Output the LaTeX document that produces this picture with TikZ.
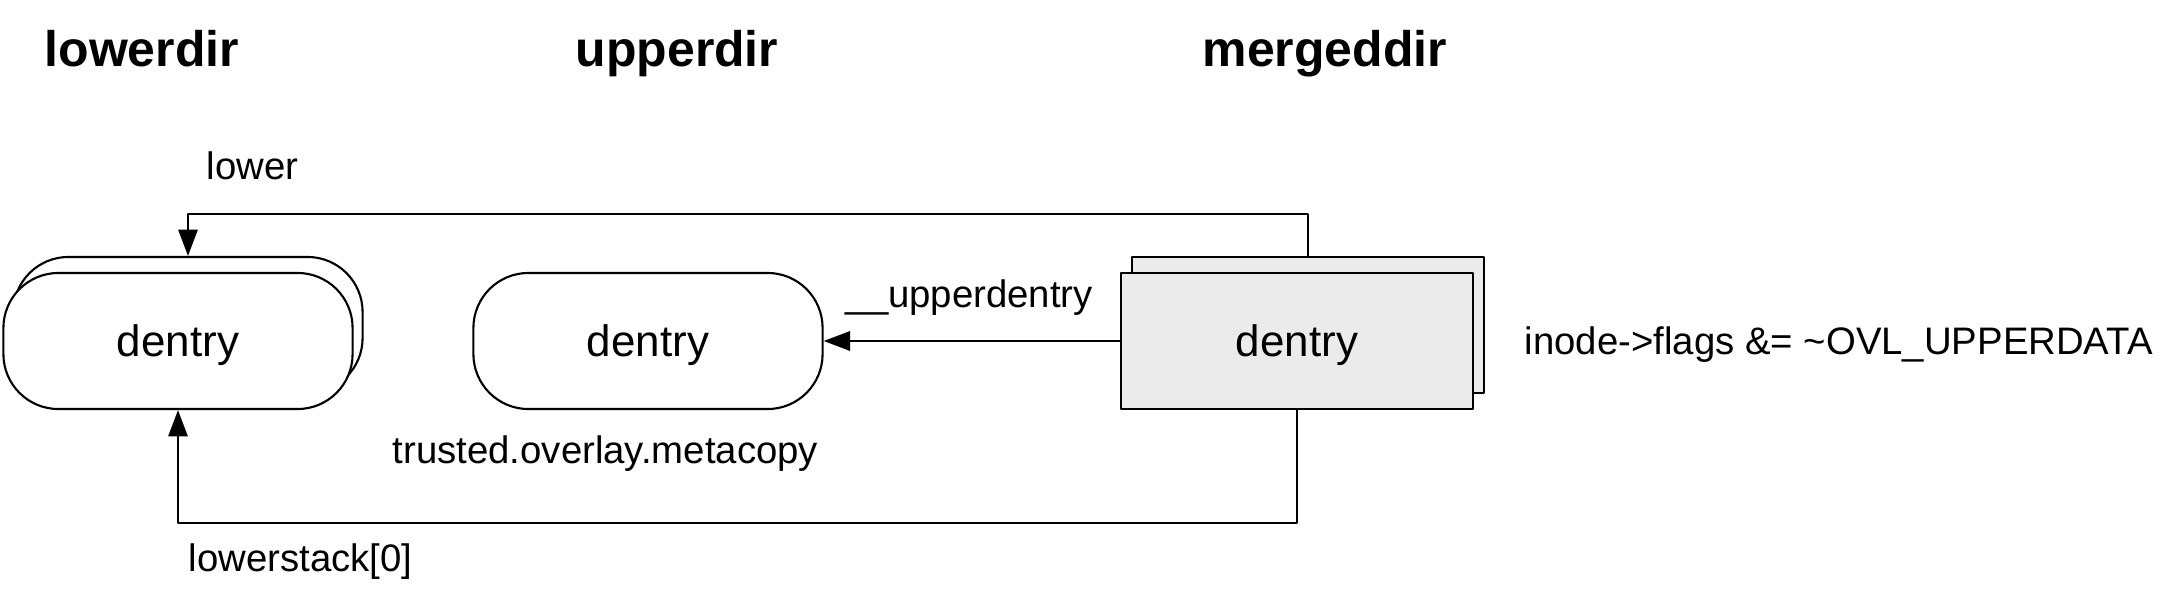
\documentclass[tikz,border=0pt]{standalone}
\usepackage{fontspec}
\setmainfont{Liberation Sans}
\usetikzlibrary{arrows.meta,positioning}

\begin{document}
\begin{tikzpicture}[x=0.01cm,y=-0.01cm,>={Triangle[length=7.5pt,width=5.5pt]},line join=round,
  pill/.style={draw,line width=0.6pt,fill=white,rounded corners=0.55cm,minimum width=3.49cm,minimum height=1.36cm,inner sep=0pt,text depth=0pt,font=\fontsize{12.5}{15}\selectfont},
  card/.style={draw,line width=0.6pt,fill=dentrygray,minimum width=3.51cm,minimum height=1.36cm,inner sep=0pt,text depth=0pt,font=\fontsize{12.5}{15}\selectfont},
  link/.style={draw,line width=0.6pt},
  lbl/.style={anchor=west,inner sep=0pt,font=\fontsize{10.9}{13}\selectfont},
  dirname/.style={anchor=base west,inner sep=0pt,font=\fontsize{14.2}{17}\selectfont\bfseries}]
  \definecolor{dentrygray}{HTML}{EBEBEB}
  \useasboundingbox (0,0) rectangle (2166,597);
  % column titles
  \node[dirname] (tlower) at (44,67) {lowerdir};
  \node[dirname] (tupper) at (575,67) {upperdir};
  \node[dirname] (tmerged) at (1202,67) {mergeddir};
  % dentries
  \node[pill] (lowerback) at (188,325) {};
  \node[pill] (lower) at (178,341) {dentry};
  \node[pill] (upper) at (648,341) {dentry};
  \node[card] (mergedback) at (1308,325) {};
  \node[card] (merged) at (1297,341) {dentry};
  % links
  \draw[link,->] (mergedback.north) -- ++(0,-42) -| (lowerback.north);
  \draw[link,->] (merged.west) -- (upper.east);
  \draw[link,->] (merged.south) -- ++(0,113) -| (lower.south);
  % labels
  \node[lbl] (llower) at (206,166) {lower};
  \node[lbl] (lupper) at (845,298) {\_\_upperdentry};
  \node[lbl] (lflags) at (1524,345) {inode->flags \&= \textasciitilde OVL\_UPPERDATA};
  \node[lbl] (lmeta) at (392,454) {trusted.overlay.metacopy};
  \node[lbl] (lstack) at (188,562) {lowerstack[0]};
\end{tikzpicture}
\end{document}
